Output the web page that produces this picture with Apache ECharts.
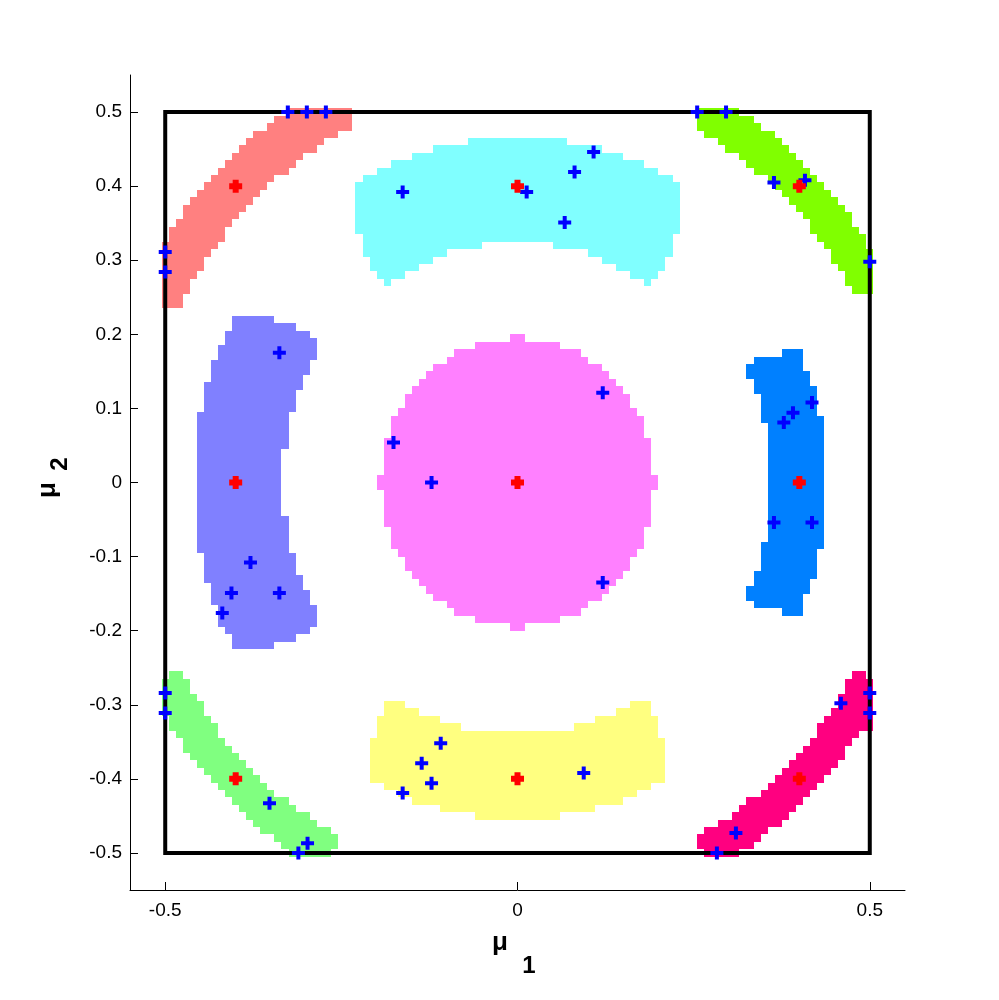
<!DOCTYPE html>
<html><head><meta charset="utf-8">
<script src="https://cdn.jsdelivr.net/npm/echarts@6/dist/echarts.min.js"></script>
<style>html,body{margin:0;padding:0;background:#fff}#c{width:999px;height:1000px}</style>
</head><body><div id="c"></div>
<script>
// ---- tick values and labels ----
const xTickValues = [-0.5, 0, 0.5];
const xTickLabels = ['-0.5', '0', '0.5'];
const yTickValues = [-0.5, -0.4, -0.3, -0.2, -0.1, 0, 0.1, 0.2, 0.3, 0.4, 0.5];
const yTickLabels = ['-0.5', '-0.4', '-0.3', '-0.2', '-0.1', '0', '0.1', '0.2', '0.3', '0.4', '0.5'];

// ---- bounding square ----
const boxX = [-0.5, 0.5, 0.5, -0.5, -0.5];
const boxY = [-0.5, -0.5, 0.5, 0.5, -0.5];

// ---- red centres ----
const centerX = [-0.4, 0, 0.4, -0.4, 0, 0.4, -0.4, 0, 0.4];
const centerY = [0.4, 0.4, 0.4, 0, 0, 0, -0.4, -0.4, -0.4];

// ---- blue sample points ----
const sampleX = [-0.326, -0.299, -0.272, -0.5, -0.5,
  -0.163, 0.013, 0.108, 0.081, 0.067,
  0.255, 0.296, 0.364, 0.408, 0.5,
  -0.338, -0.379, -0.406, -0.338, -0.419,
  0.121, -0.176, -0.122, 0.121,
  0.418, 0.391, 0.378, 0.364, 0.418,
  -0.5, -0.5, -0.352, -0.298, -0.311,
  -0.109, -0.136, -0.122, -0.163, 0.094,
  0.5, 0.5, 0.459, 0.310, 0.283];
const sampleY = [0.5, 0.5, 0.5, 0.311, 0.284,
  0.392, 0.392, 0.446, 0.419, 0.351,
  0.5, 0.5, 0.405, 0.408, 0.298,
  0.175, -0.108, -0.149, -0.149, -0.176,
  0.121, 0.054, 0, -0.135,
  0.108, 0.094, 0.081, -0.054, -0.054,
  -0.284, -0.311, -0.433, -0.487, -0.5,
  -0.352, -0.379, -0.406, -0.419, -0.392,
  -0.284, -0.311, -0.298, -0.473, -0.5];

// ---- regions: rows of [y (row centre), x left edge, x right edge] ----
const regionTopLeft = [
  [0.50, -0.325, -0.235], [0.49, -0.345, -0.235], [0.48, -0.355, -0.235], [0.47, -0.375, -0.255],
  [0.46, -0.385, -0.275], [0.45, -0.395, -0.285], [0.44, -0.405, -0.305], [0.43, -0.415, -0.315],
  [0.42, -0.425, -0.325], [0.41, -0.435, -0.345], [0.40, -0.445, -0.355], [0.39, -0.455, -0.365],
  [0.38, -0.465, -0.375], [0.37, -0.475, -0.385], [0.36, -0.475, -0.395], [0.35, -0.485, -0.405],
  [0.34, -0.495, -0.415], [0.33, -0.495, -0.415], [0.32, -0.505, -0.425], [0.31, -0.505, -0.435],
  [0.30, -0.505, -0.445], [0.29, -0.505, -0.445], [0.28, -0.505, -0.455], [0.27, -0.505, -0.465],
  [0.26, -0.505, -0.465], [0.25, -0.505, -0.475], [0.24, -0.505, -0.475]
];
const regionTop = [
  [0.46, -0.07, 0.07], [0.45, -0.12, 0.12], [0.44, -0.15, 0.15], [0.43, -0.18, 0.18],
  [0.42, -0.20, 0.20], [0.41, -0.22, 0.22], [0.40, -0.23, 0.23], [0.39, -0.23, 0.23],
  [0.38, -0.23, 0.23], [0.37, -0.23, 0.23], [0.36, -0.23, 0.23], [0.35, -0.23, 0.23],
  [0.34, -0.23, 0.23], [0.33, -0.22, 0.22],
  [0.32, -0.22, -0.05], [0.32, 0.05, 0.22], [0.31, -0.22, -0.10], [0.31, 0.10, 0.22],
  [0.30, -0.21, -0.12], [0.30, 0.12, 0.21], [0.29, -0.21, -0.14], [0.29, 0.14, 0.21],
  [0.28, -0.20, -0.16], [0.28, 0.16, 0.20], [0.27, -0.19, -0.18], [0.27, 0.18, 0.19]
];
const regionTopRight = [
  [0.50, 0.255, 0.315], [0.49, 0.255, 0.335], [0.48, 0.255, 0.345], [0.47, 0.265, 0.365],
  [0.46, 0.285, 0.375], [0.45, 0.295, 0.385], [0.44, 0.315, 0.395], [0.43, 0.325, 0.405],
  [0.42, 0.335, 0.415], [0.41, 0.355, 0.425], [0.40, 0.365, 0.435], [0.39, 0.375, 0.445],
  [0.38, 0.385, 0.455], [0.37, 0.395, 0.465], [0.36, 0.405, 0.475], [0.35, 0.415, 0.475],
  [0.34, 0.415, 0.485], [0.33, 0.425, 0.495], [0.32, 0.435, 0.495], [0.31, 0.445, 0.505],
  [0.30, 0.445, 0.505], [0.29, 0.455, 0.505], [0.28, 0.465, 0.505], [0.27, 0.465, 0.505],
  [0.26, 0.475, 0.505]
];
const regionLeft = [
  [0.22, -0.405, -0.345], [0.21, -0.405, -0.315], [0.20, -0.415, -0.295], [0.19, -0.415, -0.285],
  [0.18, -0.425, -0.285], [0.17, -0.425, -0.285], [0.16, -0.435, -0.295], [0.15, -0.435, -0.295],
  [0.14, -0.435, -0.305], [0.13, -0.445, -0.305], [0.12, -0.445, -0.315], [0.11, -0.445, -0.315],
  [0.10, -0.445, -0.315], [0.09, -0.455, -0.325], [0.08, -0.455, -0.325], [0.07, -0.455, -0.325],
  [0.06, -0.455, -0.325], [0.05, -0.455, -0.325], [0.04, -0.455, -0.335], [0.03, -0.455, -0.335],
  [0.02, -0.455, -0.335], [0.01, -0.455, -0.335], [0.00, -0.455, -0.335], [-0.01, -0.455, -0.335],
  [-0.02, -0.455, -0.335], [-0.03, -0.455, -0.335], [-0.04, -0.455, -0.335], [-0.05, -0.455, -0.325],
  [-0.06, -0.455, -0.325], [-0.07, -0.455, -0.325], [-0.08, -0.455, -0.325], [-0.09, -0.455, -0.325],
  [-0.10, -0.445, -0.315], [-0.11, -0.445, -0.315], [-0.12, -0.445, -0.315], [-0.13, -0.445, -0.305],
  [-0.14, -0.435, -0.305], [-0.15, -0.435, -0.295], [-0.16, -0.435, -0.295], [-0.17, -0.425, -0.285],
  [-0.18, -0.425, -0.285], [-0.19, -0.425, -0.285], [-0.20, -0.415, -0.295], [-0.21, -0.405, -0.315],
  [-0.22, -0.405, -0.345]
];
const regionCenter = [
  [0.195, -0.01, 0.01], [0.185, -0.06, 0.06], [0.175, -0.09, 0.09], [0.165, -0.10, 0.10],
  [0.155, -0.12, 0.12], [0.145, -0.13, 0.13], [0.135, -0.14, 0.14], [0.125, -0.15, 0.15],
  [0.115, -0.16, 0.16], [0.105, -0.16, 0.16], [0.095, -0.17, 0.17], [0.085, -0.18, 0.18],
  [0.075, -0.18, 0.18], [0.065, -0.18, 0.18], [0.055, -0.19, 0.19], [0.045, -0.19, 0.19],
  [0.035, -0.19, 0.19], [0.025, -0.19, 0.19], [0.015, -0.19, 0.19], [0.005, -0.20, 0.20],
  [-0.005, -0.20, 0.20], [-0.015, -0.19, 0.19], [-0.025, -0.19, 0.19], [-0.035, -0.19, 0.19],
  [-0.045, -0.19, 0.19], [-0.055, -0.19, 0.19], [-0.065, -0.18, 0.18], [-0.075, -0.18, 0.18],
  [-0.085, -0.18, 0.18], [-0.095, -0.17, 0.17], [-0.105, -0.16, 0.16], [-0.115, -0.16, 0.16],
  [-0.125, -0.15, 0.15], [-0.135, -0.14, 0.14], [-0.145, -0.13, 0.13], [-0.155, -0.12, 0.12],
  [-0.165, -0.10, 0.10], [-0.175, -0.09, 0.09], [-0.185, -0.06, 0.06], [-0.195, -0.01, 0.01]
];
const regionRight = [
  [0.175, 0.375, 0.405], [0.165, 0.335, 0.405], [0.155, 0.325, 0.405], [0.145, 0.325, 0.415],
  [0.135, 0.335, 0.415], [0.125, 0.335, 0.425], [0.115, 0.345, 0.425], [0.105, 0.345, 0.425],
  [0.095, 0.345, 0.425], [0.085, 0.345, 0.435], [0.075, 0.355, 0.435], [0.065, 0.355, 0.435],
  [0.055, 0.355, 0.435], [0.045, 0.355, 0.435], [0.035, 0.355, 0.435], [0.025, 0.355, 0.435],
  [0.015, 0.355, 0.435], [0.005, 0.355, 0.435], [-0.005, 0.355, 0.435], [-0.015, 0.355, 0.435],
  [-0.025, 0.355, 0.435], [-0.035, 0.355, 0.435], [-0.045, 0.355, 0.435], [-0.055, 0.355, 0.435],
  [-0.065, 0.355, 0.435], [-0.075, 0.355, 0.435], [-0.085, 0.345, 0.435], [-0.095, 0.345, 0.425],
  [-0.105, 0.345, 0.425], [-0.115, 0.345, 0.425], [-0.125, 0.335, 0.425], [-0.135, 0.335, 0.415],
  [-0.145, 0.325, 0.415], [-0.155, 0.325, 0.405], [-0.165, 0.335, 0.405], [-0.175, 0.375, 0.405]
];
const regionBottomLeft = [
  [-0.26, -0.495, -0.475], [-0.27, -0.505, -0.465], [-0.28, -0.505, -0.465], [-0.29, -0.505, -0.455],
  [-0.30, -0.505, -0.445], [-0.31, -0.505, -0.445], [-0.32, -0.495, -0.435], [-0.33, -0.495, -0.425],
  [-0.34, -0.485, -0.425], [-0.35, -0.475, -0.415], [-0.36, -0.475, -0.405], [-0.37, -0.465, -0.395],
  [-0.38, -0.455, -0.385], [-0.39, -0.445, -0.375], [-0.40, -0.435, -0.365], [-0.41, -0.425, -0.355],
  [-0.42, -0.415, -0.345], [-0.43, -0.405, -0.325], [-0.44, -0.395, -0.315], [-0.45, -0.385, -0.295],
  [-0.46, -0.375, -0.285], [-0.47, -0.365, -0.265], [-0.48, -0.345, -0.255], [-0.49, -0.335, -0.255],
  [-0.50, -0.325, -0.265]
];
const regionBottom = [
  [-0.30, -0.19, -0.16], [-0.30, 0.16, 0.19], [-0.31, -0.19, -0.14], [-0.31, 0.14, 0.19],
  [-0.32, -0.20, -0.11], [-0.32, 0.11, 0.20], [-0.33, -0.20, -0.08], [-0.33, 0.08, 0.20],
  [-0.34, -0.20, 0.20], [-0.35, -0.21, 0.21], [-0.36, -0.21, 0.21], [-0.37, -0.21, 0.21],
  [-0.38, -0.21, 0.21], [-0.39, -0.21, 0.21], [-0.40, -0.21, 0.21], [-0.41, -0.19, 0.19],
  [-0.42, -0.17, 0.17], [-0.43, -0.15, 0.15], [-0.44, -0.11, 0.11], [-0.45, -0.06, 0.06]
];
const regionBottomRight = [
  [-0.26, 0.475, 0.495], [-0.27, 0.465, 0.505], [-0.28, 0.465, 0.505], [-0.29, 0.455, 0.505],
  [-0.30, 0.455, 0.505], [-0.31, 0.445, 0.505], [-0.32, 0.435, 0.505], [-0.33, 0.425, 0.505],
  [-0.34, 0.425, 0.485], [-0.35, 0.415, 0.475], [-0.36, 0.405, 0.465], [-0.37, 0.395, 0.465],
  [-0.38, 0.385, 0.455], [-0.39, 0.375, 0.445], [-0.40, 0.365, 0.435], [-0.41, 0.355, 0.425],
  [-0.42, 0.345, 0.415], [-0.43, 0.325, 0.405], [-0.44, 0.315, 0.395], [-0.45, 0.305, 0.385],
  [-0.46, 0.285, 0.375], [-0.47, 0.265, 0.355], [-0.48, 0.255, 0.345], [-0.49, 0.255, 0.335],
  [-0.50, 0.265, 0.315]
];

const regions = [
  { rows: regionTopLeft, color: '#ff8080' },
  { rows: regionTop, color: '#80ffff' },
  { rows: regionTopRight, color: '#80ff00' },
  { rows: regionLeft, color: '#8080ff' },
  { rows: regionCenter, color: '#ff80ff' },
  { rows: regionRight, color: '#0080ff' },
  { rows: regionBottomLeft, color: '#80ff80' },
  { rows: regionBottom, color: '#ffff80' },
  { rows: regionBottomRight, color: '#ff0080' }
];

const ROW_HALF = 0.005;
const FONT = '"Liberation Sans", Arial, Helvetica, sans-serif';
const plusThin = 'path://M4.5,0H8.5V4.5H13V8.5H8.5V13H4.5V8.5H0V4.5H4.5Z';
const plusThick = 'path://M3.5,0H9.5V3.5H13V9.5H9.5V13H3.5V9.5H0V3.5H3.5Z';

function labelFor(values, labels) {
  return function (v) {
    for (let i = 0; i < values.length; i++) if (Math.abs(values[i] - v) < 1e-9) return labels[i];
    return '';
  };
}

function regionSeries(reg) {
  return {
    type: 'custom',
    coordinateSystem: 'cartesian2d',
    silent: true,
    z: 1,
    data: reg.rows.map(r => [r[1], r[2], r[0]]),
    encode: { x: [0, 1], y: 2 },
    renderItem: function (params, api) {
      const x0 = api.value(0), x1 = api.value(1), y = api.value(2);
      const p0 = api.coord([x0, y + ROW_HALF]);
      const p1 = api.coord([x1, y - ROW_HALF]);
      const l = Math.round(p0[0]), t = Math.round(p0[1]);
      const r = Math.round(p1[0]), b = Math.round(p1[1]);
      return { type: 'rect', shape: { x: l, y: t, width: r - l, height: b - t }, style: { fill: reg.color } };
    }
  };
}

const chart = echarts.init(document.getElementById('c'), null, { renderer: 'canvas' });
const series = regions.map(regionSeries);
series.push({
  type: 'line', z: 2, silent: true, symbol: 'none',
  data: boxX.map((x, i) => [x, boxY[i]]),
  lineStyle: { color: '#000', width: 4, cap: 'square', join: 'miter' }
});
series.push({
  type: 'scatter', z: 3, silent: true,
  symbol: plusThin, symbolSize: 13,
  itemStyle: { color: '#0000ff', opacity: 1 },
  data: sampleX.map((x, i) => [x, sampleY[i]])
});
series.push({
  type: 'scatter', z: 4, silent: true,
  symbol: plusThick, symbolSize: 13,
  itemStyle: { color: '#ff0000', opacity: 1 },
  data: centerX.map((x, i) => [x, centerY[i]])
});

chart.setOption({
  animation: false,
  backgroundColor: '#ffffff',
  grid: { left: 130, right: 94, top: 75, bottom: 110, containLabel: false },
  xAxis: {
    type: 'value', min: -0.55, max: 0.55,
    axisLine: { show: true, onZero: false, lineStyle: { color: '#000', width: 1 } },
    axisTick: { show: true, inside: true, length: 8, customValues: xTickValues, lineStyle: { color: '#000', width: 1 } },
    axisLabel: { show: true, customValues: xTickValues, formatter: labelFor(xTickValues, xTickLabels),
      color: '#000', fontSize: 19, fontFamily: FONT, margin: 11 },
    splitLine: { show: false }
  },
  yAxis: {
    type: 'value', min: -0.55, max: 0.55,
    axisLine: { show: true, onZero: false, lineStyle: { color: '#000', width: 1 } },
    axisTick: { show: true, inside: true, length: 8, customValues: yTickValues, lineStyle: { color: '#000', width: 1 } },
    axisLabel: { show: true, customValues: yTickValues, formatter: labelFor(yTickValues, yTickLabels),
      color: '#000', fontSize: 19, fontFamily: FONT, margin: 8 },
    splitLine: { show: false }
  },
  graphic: [
    { type: 'text', x: 500, y: 943, style: { text: 'μ', font: 'bold 26px ' + FONT, fill: '#000',
      align: 'center', verticalAlign: 'middle', textAlign: 'center', textVerticalAlign: 'middle' } },
    { type: 'text', x: 529, y: 966, style: { text: '1', font: 'bold 24px ' + FONT, fill: '#000',
      align: 'center', verticalAlign: 'middle', textAlign: 'center', textVerticalAlign: 'middle' } },
    { type: 'text', x: 48, y: 490, rotation: Math.PI / 2, style: { text: 'μ', font: 'bold 26px ' + FONT, fill: '#000',
      align: 'center', verticalAlign: 'middle', textAlign: 'center', textVerticalAlign: 'middle' } },
    { type: 'text', x: 60, y: 464, rotation: Math.PI / 2, style: { text: '2', font: 'bold 24px ' + FONT, fill: '#000',
      align: 'center', verticalAlign: 'middle', textAlign: 'center', textVerticalAlign: 'middle' } }
  ],
  series: series
});
</script>
</body></html>
